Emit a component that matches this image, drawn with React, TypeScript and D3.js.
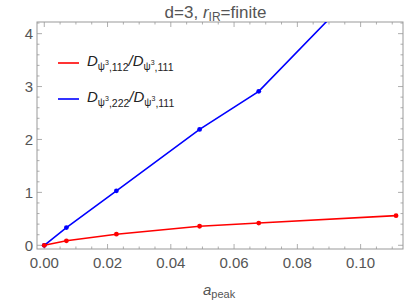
import React, { useEffect, useRef } from "react";
import * as d3 from "d3";

const aPeak = [0, 0.007, 0.0228, 0.0491, 0.0678, 0.1112];
const ratio112 = [0, 0.085, 0.21, 0.36, 0.42, 0.56];
const ratio222 = [0, 0.335, 1.03, 2.19, 2.91, 5.58];
const xTicks = [0, 0.02, 0.04, 0.06, 0.08, 0.1];
const yTicks = [0, 1, 2, 3, 4];

const App: React.FC = () => {
  const svgRef = useRef<SVGSVGElement>(null);

  useEffect(() => {
    const width = 407;
    const height = 303;
    const left = 37;
    const right = 403;
    const top = 22;
    const bottom = 249;
    const grey = "#999";
    const labelColor = "#555";

    const svg = d3
      .select(svgRef.current)
      .attr("width", width)
      .attr("height", height)
      .style("font-family", "'Liberation Sans', Arial, sans-serif");

    const x = d3.scaleLinear().domain([-0.0023, 0.1134]).range([left, right]);
    const y = d3.scaleLinear().domain([-0.07, 4.22]).range([bottom, top]);

    svg
      .append("defs")
      .append("clipPath")
      .attr("id", "plot-clip")
      .append("rect")
      .attr("x", left)
      .attr("y", top)
      .attr("width", right - left)
      .attr("height", bottom - top);

    // frame
    svg
      .append("rect")
      .attr("x", left)
      .attr("y", top)
      .attr("width", right - left)
      .attr("height", bottom - top)
      .attr("fill", "white")
      .attr("stroke", grey)
      .attr("stroke-width", 1);

    // ticks on all four sides, pointing inward
    const xMinor = d3.range(0, 0.1134, 0.005);
    const yMinor = d3.range(0, 4.22, 0.2);
    const ticks = svg.append("g").attr("stroke", grey).attr("stroke-width", 0.8);
    xMinor.forEach((v) => {
      const major = xTicks.some((t) => Math.abs(t - v) < 1e-6);
      const len = major ? 5 : 2.5;
      ticks.append("line").attr("x1", x(v)).attr("x2", x(v)).attr("y1", bottom).attr("y2", bottom - len);
      ticks.append("line").attr("x1", x(v)).attr("x2", x(v)).attr("y1", top).attr("y2", top + len);
    });
    yMinor.forEach((v) => {
      const major = yTicks.some((t) => Math.abs(t - v) < 1e-6);
      const len = major ? 5 : 2.5;
      ticks.append("line").attr("x1", left).attr("x2", left + len).attr("y1", y(v)).attr("y2", y(v));
      ticks.append("line").attr("x1", right).attr("x2", right - len).attr("y1", y(v)).attr("y2", y(v));
    });

    svg
      .append("g")
      .selectAll("text")
      .data(xTicks)
      .enter()
      .append("text")
      .attr("x", (d) => x(d))
      .attr("y", bottom + 19)
      .attr("text-anchor", "middle")
      .attr("fill", labelColor)
      .style("font-size", "15px")
      .text((d) => d.toFixed(2));

    svg
      .append("g")
      .selectAll("text")
      .data(yTicks)
      .enter()
      .append("text")
      .attr("x", left - 4)
      .attr("y", (d) => y(d) + 5.5)
      .attr("text-anchor", "end")
      .attr("fill", labelColor)
      .style("font-size", "15px")
      .text((d) => d);

    // series
    const line = d3
      .line<number>()
      .x((_, i) => x(aPeak[i]))
      .y((d) => y(d));

    const plot = svg.append("g").attr("clip-path", "url(#plot-clip)");
    const series = [
      { values: ratio222, color: "#0000ff" },
      { values: ratio112, color: "#ff0000" },
    ];
    series.forEach((s) => {
      plot
        .append("path")
        .attr("d", line(s.values))
        .attr("fill", "none")
        .attr("stroke", s.color)
        .attr("stroke-width", 1.6);
      plot
        .selectAll(null)
        .data(s.values)
        .enter()
        .append("circle")
        .attr("cx", (_, i) => x(aPeak[i]))
        .attr("cy", (d) => y(d))
        .attr("r", 2.4)
        .attr("fill", s.color);
    });

    // title
    const title = svg
      .append("text")
      .attr("x", 215.5)
      .attr("y", 18)
      .attr("text-anchor", "middle")
      .attr("fill", labelColor)
      .style("font-size", "17px");
    title.append("tspan").text("d=3, ");
    title.append("tspan").style("font-style", "italic").text("r");
    title.append("tspan").attr("dy", 3).style("font-size", "12px").text("IR");
    title.append("tspan").attr("dy", -3).text("=finite");

    // x label
    const xl = svg
      .append("text")
      .attr("x", 203)
      .attr("y", 295)
      .attr("fill", labelColor)
      .style("font-size", "15px");
    xl.append("tspan").style("font-style", "italic").text("a");
    xl.append("tspan").attr("dy", 3).style("font-size", "11px").text("peak");

    // legend
    const legend = [
      { label: "112", color: "#ff0000", yPos: 63 },
      { label: "222", color: "#0000ff", yPos: 99 },
    ];
    legend.forEach((l) => {
      svg
        .append("line")
        .attr("x1", 58)
        .attr("x2", 79)
        .attr("y1", l.yPos)
        .attr("y2", l.yPos)
        .attr("stroke", l.color)
        .attr("stroke-width", 1.6);
      const t = svg
        .append("text")
        .attr("x", 87)
        .attr("y", l.yPos + 3)
        .attr("fill", "#222")
        .style("font-size", "15px");
      t.append("tspan").style("font-style", "italic").text("D");
      t.append("tspan").attr("dy", 4).style("font-size", "10px").text("\u03C8");
      t.append("tspan").attr("dy", -5).style("font-size", "7px").text("3");
      t.append("tspan").attr("dy", 6).style("font-size", "10.5px").text("," + l.label);
      t.append("tspan").attr("dy", -5).style("font-style", "italic").text("/D");
      t.append("tspan").attr("dy", 4).style("font-size", "10px").text("\u03C8");
      t.append("tspan").attr("dy", -5).style("font-size", "7px").text("3");
      t.append("tspan").attr("dy", 6).style("font-size", "10.5px").text(",111");
    });

    return () => {
      svg.selectAll("*").remove();
    };
  }, []);

  return (
    <svg
      ref={svgRef}
      width={407}
      height={303}
      style={{ position: "absolute", left: 0, top: 0, background: "white" }}
    />
  );
};

export default App;
